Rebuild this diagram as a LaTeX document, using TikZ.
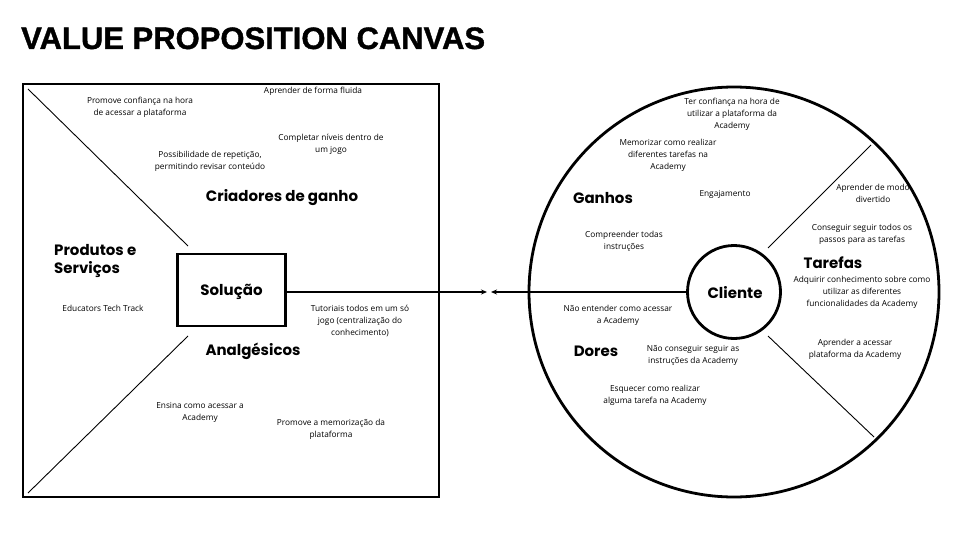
\documentclass[tikz,border=0pt]{standalone}
\usepackage{fontspec}
\setmainfont{Open Sans}
\newfontfamily\headfont{Poppins}
\newfontfamily\titlefont{Liberation Sans}[FakeBold=1.2]
\usetikzlibrary{arrows.meta}
\begin{document}
\begin{tikzpicture}[x=1pt,y=-1pt,
  small/.style={font=\fontsize{8.3}{12}\selectfont, align=center, inner sep=0pt, anchor=north},
  head/.style={font=\headfont\bfseries\fontsize{15}{18}\selectfont, inner sep=0pt},
  thick border/.style={line width=2.8pt},
  thin line/.style={line width=0.9pt},
  arr/.style={line width=1.1pt, -{Stealth[length=6pt,width=5pt]}}
]
\useasboundingbox (0,0) rectangle (960,540);
% title
\node[font=\titlefont\bfseries\fontsize{31}{31}\selectfont, anchor=base west, inner sep=0pt] (title) at (21,49) {VALUE PROPOSITION CANVAS};

% left box
\draw[thick border] (23,84) rectangle (439,497);
\coordinate (d1a) at (28,89);
\coordinate (d1b) at (188,246);
\coordinate (d2a) at (188,336);
\coordinate (d2b) at (28,493);
\draw[thin line] (d1a) -- (d1b);
\draw[thin line] (d2a) -- (d2b);

\node[draw, thick border, minimum width=108pt, minimum height=72pt, inner sep=0pt] (sol) at (231.5,290) {};
\node[head] (soltxt) at (231.5,292) {Solução};

\node[small] (g1) at (140,97) {Promove confiança na hora\\de acessar a plataforma};
\node[small] (g2) at (313,87) {Aprender de forma fluida};
\node[small] (g3) at (331,134) {Completar níveis dentro de\\um jogo};
\node[small] (g4) at (210,151) {Possibilidade de repetição,\\permitindo revisar conteúdo};
\node[head] (crg) at (282,198) {Criadores de ganho};
\node[head, anchor=north west, align=left] (ps) at (54,244) {Produtos e\\Serviços};
\node[small] (p1) at (103,305) {Educators Tech Track};
\node[small] (p2) at (360,305) {Tutoriais todos em um só\\jogo (centralização do\\conhecimento)};
\node[head] (anl) at (253,351) {Analgésicos};
\node[small] (a1) at (200,402) {Ensina como acessar a\\Academy};
\node[small] (a2) at (331,419) {Promove a memorização da\\plataforma};

% right circle
\node[draw, circle, thick border, minimum size=410pt, inner sep=0pt] (big) at (734,292) {};
\node[draw, circle, thick border, minimum size=93pt, inner sep=0pt] (cli) at (734,292) {};
\node[head] (clitxt) at (735,293) {Cliente};
\coordinate (t1a) at (768,248);
\coordinate (t1b) at (871,145);
\coordinate (t2a) at (768,336);
\coordinate (t2b) at (874,437);
\draw[thin line] (t1a) -- (t1b);
\draw[thin line] (t2a) -- (t2b);

\node[small] (c1) at (732,98) {Ter confiança na hora de\\utilizar a plataforma da\\Academy};
\node[small] (c2) at (668,139) {Memorizar como realizar\\diferentes tarefas na\\Academy};
\node[small] (c3) at (725,190) {Engajamento};
\node[head] (gan) at (603,198) {Ganhos};
\node[small] (c4) at (624,231) {Compreender todas\\instruções};
\node[small] (t1) at (873,184) {Aprender de modo\\divertido};
\node[small] (t2) at (862,224) {Conseguir seguir todos os\\passos para as tarefas};
\node[head] (tar) at (833,263) {Tarefas};
\node[small] (t3) at (862,276) {Adquirir conhecimento sobre como\\utilizar as diferentes\\funcionalidades da Academy};
\node[small] (t4) at (855,339) {Aprender a acessar\\plataforma da Academy};
\node[small] (d1) at (618,305) {Não entender como acessar\\a Academy};
\node[head] (dor) at (596,351) {Dores};
\node[small] (d2) at (693,345) {Não conseguir seguir as\\instruções da Academy};
\node[small] (d3) at (655,385) {Esquecer como realizar\\alguma tarefa na Academy};

% connectors
\coordinate (m1) at (487,292);
\coordinate (m2) at (491,292);
\draw[arr] (sol.east |- m1) -- (m1);
\draw[arr] (cli.west) -- (m2);
\end{tikzpicture}
\end{document}
